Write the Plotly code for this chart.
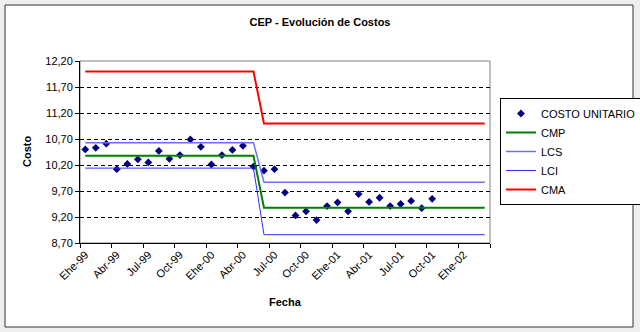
import plotly.graph_objects as go

# ---- data ----
months = [
    "Ehe-99", "Feb-99", "Mar-99", "Abr-99", "May-99", "Jun-99", "Jul-99", "Ago-99", "Sep-99", "Oct-99", "Nov-99", "Dic-99",
    "Ehe-00", "Feb-00", "Mar-00", "Abr-00", "May-00", "Jun-00", "Jul-00", "Ago-00", "Sep-00", "Oct-00", "Nov-00", "Dic-00",
    "Ehe-01", "Feb-01", "Mar-01", "Abr-01", "May-01", "Jun-01", "Jul-01", "Ago-01", "Sep-01", "Oct-01", "Nov-01", "Dic-01",
    "Ehe-02", "Feb-02", "Mar-02",
]

costo_unitario = [
    10.50, 10.53, 10.61, 10.12, 10.22, 10.31, 10.25, 10.47, 10.32, 10.39, 10.69, 10.55,
    10.21, 10.39, 10.49, 10.57, 10.17, 10.09, 10.12, 9.67, 9.23, 9.31, 9.14, 9.41,
    9.48, 9.31, 9.64, 9.49, 9.57, 9.41, 9.45, 9.51, 9.37, 9.55,
]

cmp_vals = [
    10.38, 10.38, 10.38, 10.38, 10.38, 10.38, 10.38, 10.38, 10.38, 10.38, 10.38, 10.38,
    10.38, 10.38, 10.38, 10.38, 10.38, 9.38, 9.38, 9.38, 9.38, 9.38, 9.38, 9.38,
    9.38, 9.38, 9.38, 9.38, 9.38, 9.38, 9.38, 9.38, 9.38, 9.38, 9.38, 9.38,
    9.38, 9.38, 9.38,
]
lcs_vals = [
    10.63, 10.63, 10.63, 10.63, 10.63, 10.63, 10.63, 10.63, 10.63, 10.63, 10.63, 10.63,
    10.63, 10.63, 10.63, 10.63, 10.63, 9.87, 9.87, 9.87, 9.87, 9.87, 9.87, 9.87,
    9.87, 9.87, 9.87, 9.87, 9.87, 9.87, 9.87, 9.87, 9.87, 9.87, 9.87, 9.87,
    9.87, 9.87, 9.87,
]
lci_vals = [
    10.14, 10.14, 10.14, 10.14, 10.14, 10.14, 10.14, 10.14, 10.14, 10.14, 10.14, 10.14,
    10.14, 10.14, 10.14, 10.14, 10.14, 8.86, 8.86, 8.86, 8.86, 8.86, 8.86, 8.86,
    8.86, 8.86, 8.86, 8.86, 8.86, 8.86, 8.86, 8.86, 8.86, 8.86, 8.86, 8.86,
    8.86, 8.86, 8.86,
]
cma_vals = [
    12.00, 12.00, 12.00, 12.00, 12.00, 12.00, 12.00, 12.00, 12.00, 12.00, 12.00, 12.00,
    12.00, 12.00, 12.00, 12.00, 12.00, 11.00, 11.00, 11.00, 11.00, 11.00, 11.00, 11.00,
    11.00, 11.00, 11.00, 11.00, 11.00, 11.00, 11.00, 11.00, 11.00, 11.00, 11.00, 11.00,
    11.00, 11.00, 11.00,
]

title_text = "CEP - Evolución de Costos"
x_title = "Fecha"
y_title = "Costo"

FONT = "Liberation Sans, Arial, sans-serif"

fig = go.Figure()
fig.add_trace(go.Scatter(
    x=months[:len(costo_unitario)], y=costo_unitario, mode="markers", name="COSTO UNITARIO",
    marker=dict(symbol="diamond", size=6, color="#000080"),
))
fig.add_trace(go.Scatter(x=months, y=cmp_vals, mode="lines", name="CMP",
                         line=dict(color="#008000", width=2)))
fig.add_trace(go.Scatter(x=months, y=lcs_vals, mode="lines", name="LCS",
                         line=dict(color="#6f6fff", width=1.5)))
fig.add_trace(go.Scatter(x=months, y=lci_vals, mode="lines", name="LCI",
                         line=dict(color="#2f2fff", width=1)))
fig.add_trace(go.Scatter(x=months, y=cma_vals, mode="lines", name="CMA",
                         line=dict(color="#ff0000", width=2)))

L, R, T, B = 80, 150, 61, 89
W, H = 640, 332
pw, ph = W - L - R, H - T - B

def px_x(p):
    return (p - L) / pw

def px_y(p):
    return (H - B - p) / ph

fig.update_layout(
    width=W, height=H,
    margin=dict(l=L, r=R, t=T, b=B, autoexpand=False),
    paper_bgcolor="#eeeeee",
    plot_bgcolor="white",
    separators=",.",
    font=dict(family=FONT, size=11, color="black"),
    title=dict(text="<b>" + title_text + "</b>", x=0.5, xanchor="center",
               y=1 - 22 / H, yanchor="middle", yref="container",
               font=dict(family=FONT, size=11, color="black")),
    showlegend=True,
    legend=dict(x=px_x(500), y=px_y(98), xanchor="left", yanchor="top",
                bordercolor="black", borderwidth=1, bgcolor="white",
                font=dict(family=FONT, size=11, color="black"),
                tracegroupgap=0, itemwidth=30),
    xaxis=dict(
        type="category", categoryorder="array", categoryarray=months,
        range=[-0.5, len(months) - 0.5],
        tickmode="linear", tick0=0, dtick=3, tickson="boundaries",
        ticks="outside", ticklen=4, tickcolor="black",
        tickangle=-45, showgrid=False, showline=True, linecolor="black", linewidth=1,
        tickfont=dict(family=FONT, size=11, color="black"),
        zeroline=False,
    ),
    yaxis=dict(
        range=[8.7, 12.2], tickmode="linear", tick0=8.7, dtick=0.5, tickformat=".2f",
        ticks="outside", ticklen=4, tickcolor="black",
        showgrid=True, gridcolor="black", griddash="4px,3px", gridwidth=1,
        showline=True, linecolor="black", linewidth=1, zeroline=False,
        tickfont=dict(family=FONT, size=11, color="black"),
    ),
    shapes=[
        dict(type="rect", xref="paper", yref="paper",
             x0=px_x(5), x1=px_x(633), y0=px_y(327), y1=px_y(5),
             fillcolor="white", line=dict(color="#333333", width=1), layer="below"),
        dict(type="rect", xref="paper", yref="paper", x0=0, x1=1, y0=0, y1=1,
             fillcolor="rgba(0,0,0,0)", line=dict(color="#808080", width=1), layer="below"),
    ],
    annotations=[
        dict(text="<b>" + x_title + "</b>", xref="paper", yref="paper",
             x=0.5, y=px_y(302), xanchor="center", yanchor="middle", showarrow=False,
             font=dict(family=FONT, size=11, color="black")),
        dict(text="<b>" + y_title + "</b>", xref="paper", yref="paper",
             x=px_x(27), y=0.5, xanchor="center", yanchor="middle", showarrow=False,
             textangle=-90, font=dict(family=FONT, size=11, color="black")),
    ],
)

fig.write_html("out.html")
